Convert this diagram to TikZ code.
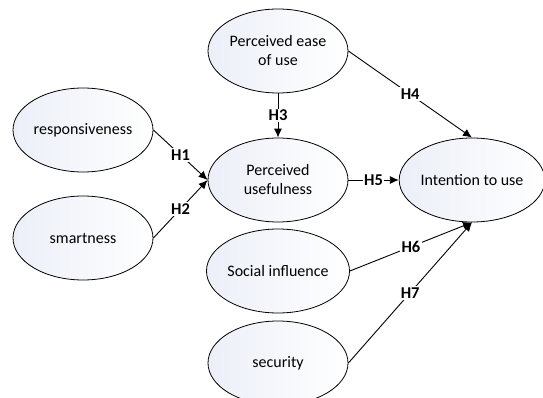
\documentclass[tikz,border=0pt]{standalone}
\usepackage{fontspec}
\setmainfont{Carlito}
\usetikzlibrary{shapes.geometric,arrows.meta}
\definecolor{ellfill}{RGB}{236,239,248}
\tikzset{
  construct/.style={ellipse, draw=black, line width=0.8pt, minimum width=140pt, minimum height=84pt,
    inner sep=0pt, left color=ellfill, right color=white, align=center,
    font=\fontsize{16}{19}\selectfont},
  path/.style={draw=black, line width=0.9pt, -{Latex[length=9pt,width=8pt]}},
  hyp/.style={fill=white, inner sep=1.5pt, font=\fontsize{16.5}{19}\selectfont\bfseries}
}
\begin{document}
\begin{tikzpicture}[x=1pt,y=-1pt]
\useasboundingbox (0,0) rectangle (543,398);
\begin{scope}
\clip (0,0) rectangle (543,398);
\node[construct] (peou) at (278,51) {Perceived ease\\of use};
\node[construct] (resp) at (83,130) {responsiveness};
\node[construct] (smart) at (83,238) {smartness};
\node[construct] (pu) at (278,180) {Perceived\\usefulness};
\node[construct, minimum width=136pt] (itu) at (472,180) {Intention to use};
\node[construct] (si) at (278,271) {Social influence};
\node[construct] (sec) at (278,363) {security};

\draw[path] (resp.east) -- node[hyp]{H1} (pu.west);
\draw[path] (smart.east) -- node[hyp]{H2} (pu.west);
\draw[path] (peou.south) -- node[hyp]{H3} (pu.north);
\draw[path] (peou.east) -- node[hyp]{H4} (itu.north);
\draw[path] (pu.east) -- node[hyp]{H5} (itu.west);
\draw[path] (si.east) -- node[hyp]{H6} (itu.south);
\draw[path] (sec.east) -- node[hyp]{H7} (itu.south);
\end{scope}
\end{tikzpicture}
\end{document}
